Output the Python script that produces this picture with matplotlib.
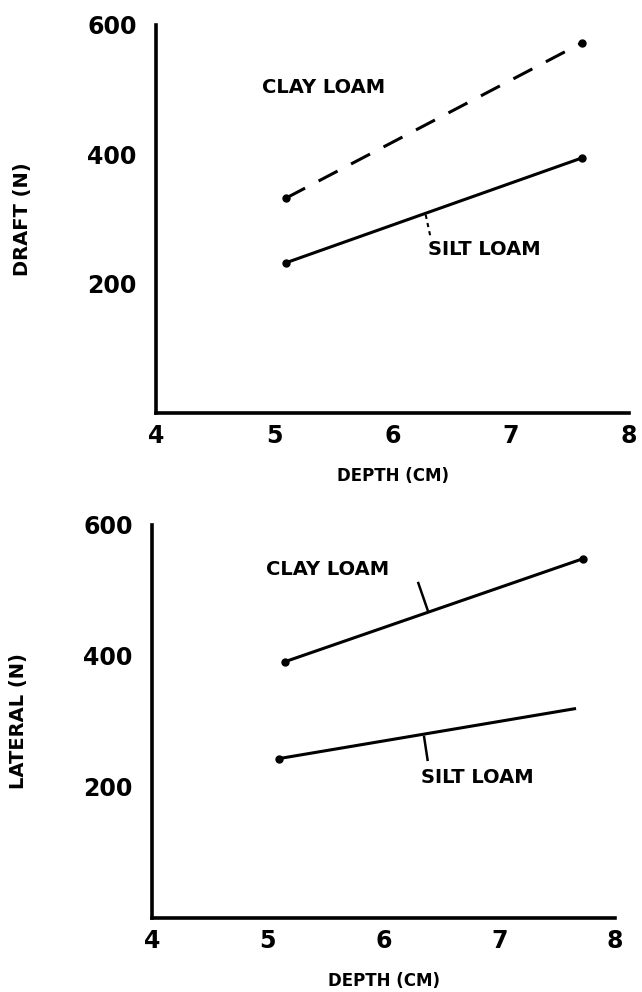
import matplotlib
matplotlib.use("Agg")
import matplotlib.pyplot as plt

# top panel: draft force
depth_top = [5.1, 7.6]
draft_clay = [332, 572]
draft_silt = [232, 394]

# bottom panel: lateral force
depth_clay_bot = [5.15, 7.72]
depth_silt_bot = [5.1, 7.65]
lateral_clay = [391, 548]
lateral_silt = [243, 319]

xticks = [4, 5, 6, 7, 8]
yticks = [200, 400, 600]

plt.rcParams["font.family"] = "DejaVu Sans"
plt.rcParams["font.weight"] = "bold"

fig = plt.figure(figsize=(6.42, 9.92), dpi=100)
ax1 = fig.add_axes([0.243, 0.584, 0.737, 0.391])
ax2 = fig.add_axes([0.237, 0.075, 0.721, 0.396])


def style(ax, ylabel):
    ax.set_xlim(4, 8)
    ax.set_ylim(0, 600)
    for s in ("top", "right"):
        ax.spines[s].set_visible(False)
    for s in ("left", "bottom"):
        ax.spines[s].set_linewidth(2.6)
    ax.set_xticks(xticks)
    ax.set_yticks(yticks)
    ax.tick_params(length=0, labelsize=17, pad=8)
    ax.tick_params(axis="y", pad=14)
    ax.set_xlabel("DEPTH (CM)", fontsize=12, fontweight="bold", labelpad=14)
    ax.set_ylabel(ylabel, fontsize=14, fontweight="bold", labelpad=40)


style(ax1, "DRAFT (N)")
ax1.plot(depth_top, draft_clay, color="black", lw=2.2, ls=(0, (7, 5)),
         marker="o", ms=5)
ax1.plot(depth_top, draft_silt, color="black", lw=2.2, marker="o", ms=5)
ax1.text(4.9, 503, "CLAY LOAM", fontsize=14, fontweight="bold", va="center")
ax1.text(6.3, 252, "SILT LOAM", fontsize=14, fontweight="bold", va="center")
ax1.plot([6.28, 6.32], [306, 272], color="black", lw=1.5, ls=(0, (2, 2)))

style(ax2, "LATERAL (N)")
ax2.plot(depth_clay_bot, lateral_clay, color="black", lw=2.2, marker="o", ms=5)
ax2.plot(depth_silt_bot, lateral_silt, color="black", lw=2.2, marker="o", ms=5,
         markevery=[0])
ax2.text(4.98, 531, "CLAY LOAM", fontsize=14, fontweight="bold", va="center")
ax2.text(6.32, 214, "SILT LOAM", fontsize=14, fontweight="bold", va="center")
ax2.plot([6.30, 6.38], [511, 470], color="black", lw=1.8)
ax2.plot([6.35, 6.38], [276, 241], color="black", lw=1.8)

fig.savefig("out.png", dpi=100)
